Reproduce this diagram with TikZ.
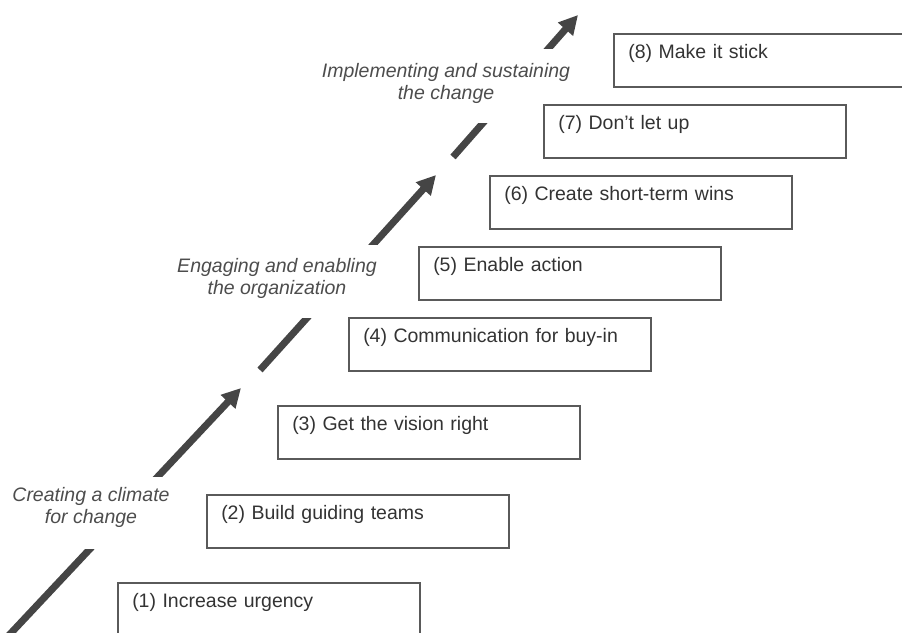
\documentclass[tikz,border=0pt]{standalone}
\usepackage{fontspec}
\setmainfont{Liberation Sans}
\usetikzlibrary{arrows.meta}
\definecolor{boxline}{HTML}{5A5A5A}
\definecolor{boxtext}{HTML}{333333}
\definecolor{labtext}{HTML}{4D4D4D}
\definecolor{arrowcol}{HTML}{454545}
\begin{document}
\begin{tikzpicture}[x=1pt,y=-1pt,
  stepbox/.style={draw=boxline, line width=1.5pt, rectangle, anchor=north west,
    text width=273pt, inner xsep=14.5pt, inner ysep=0pt, text height=25pt, text depth=28pt,
    align=left, font=\fontsize{19.5}{24}\selectfont, text=boxtext},
  phase/.style={fill=white, align=center, font=\fontsize{19.5}{22.5}\selectfont\itshape,
    text=labtext, anchor=north, inner xsep=4pt, text height=37.5pt},
  bigarrow/.style={draw=arrowcol, line width=7pt, -{Triangle[length=19pt,width=19pt]}}]
\useasboundingbox (0,0) rectangle (902,632);
\clip (0,0) rectangle (902,632);
% arrows
\coordinate (a1s) at (2.6,642);
\coordinate (a1e) at (241,388);
\coordinate (a2s) at (260,370);
\coordinate (a2e) at (436,175);
\coordinate (a3s) at (453,157);
\coordinate (a3e) at (578,15);
\draw[bigarrow] (a1s) -- (a1e);
\draw[bigarrow] (a2s) -- (a2e);
\draw[bigarrow] (a3s) -- (a3e);
% phase labels
\node[phase, inner ysep=9pt, text depth=16pt] (climate) at (91,477) {Creating a climate\\for change};
\node[phase, inner ysep=12pt, text depth=11pt] (engage) at (277,245) {Engaging and enabling\\the organization};
\node[phase, inner ysep=13pt, text depth=10pt] (implement) at (446,49) {Implementing and sustaining\\the change};
% steps
\node[stepbox] (s1) at (117,582) {(1) Increase urgency};
\node[stepbox] (s2) at (206,494) {(2) Build guiding teams};
\node[stepbox] (s3) at (277,405) {(3) Get the vision right};
\node[stepbox] (s4) at (348,317) {(4) Communication for buy-in};
\node[stepbox] (s5) at (418,246) {(5) Enable action};
\node[stepbox] (s6) at (489,175) {(6) Create short-term wins};
\node[stepbox] (s7) at (543,104) {(7) Don’t let up};
\node[stepbox] (s8) at (613,33) {(8) Make it stick};
\end{tikzpicture}
\end{document}
